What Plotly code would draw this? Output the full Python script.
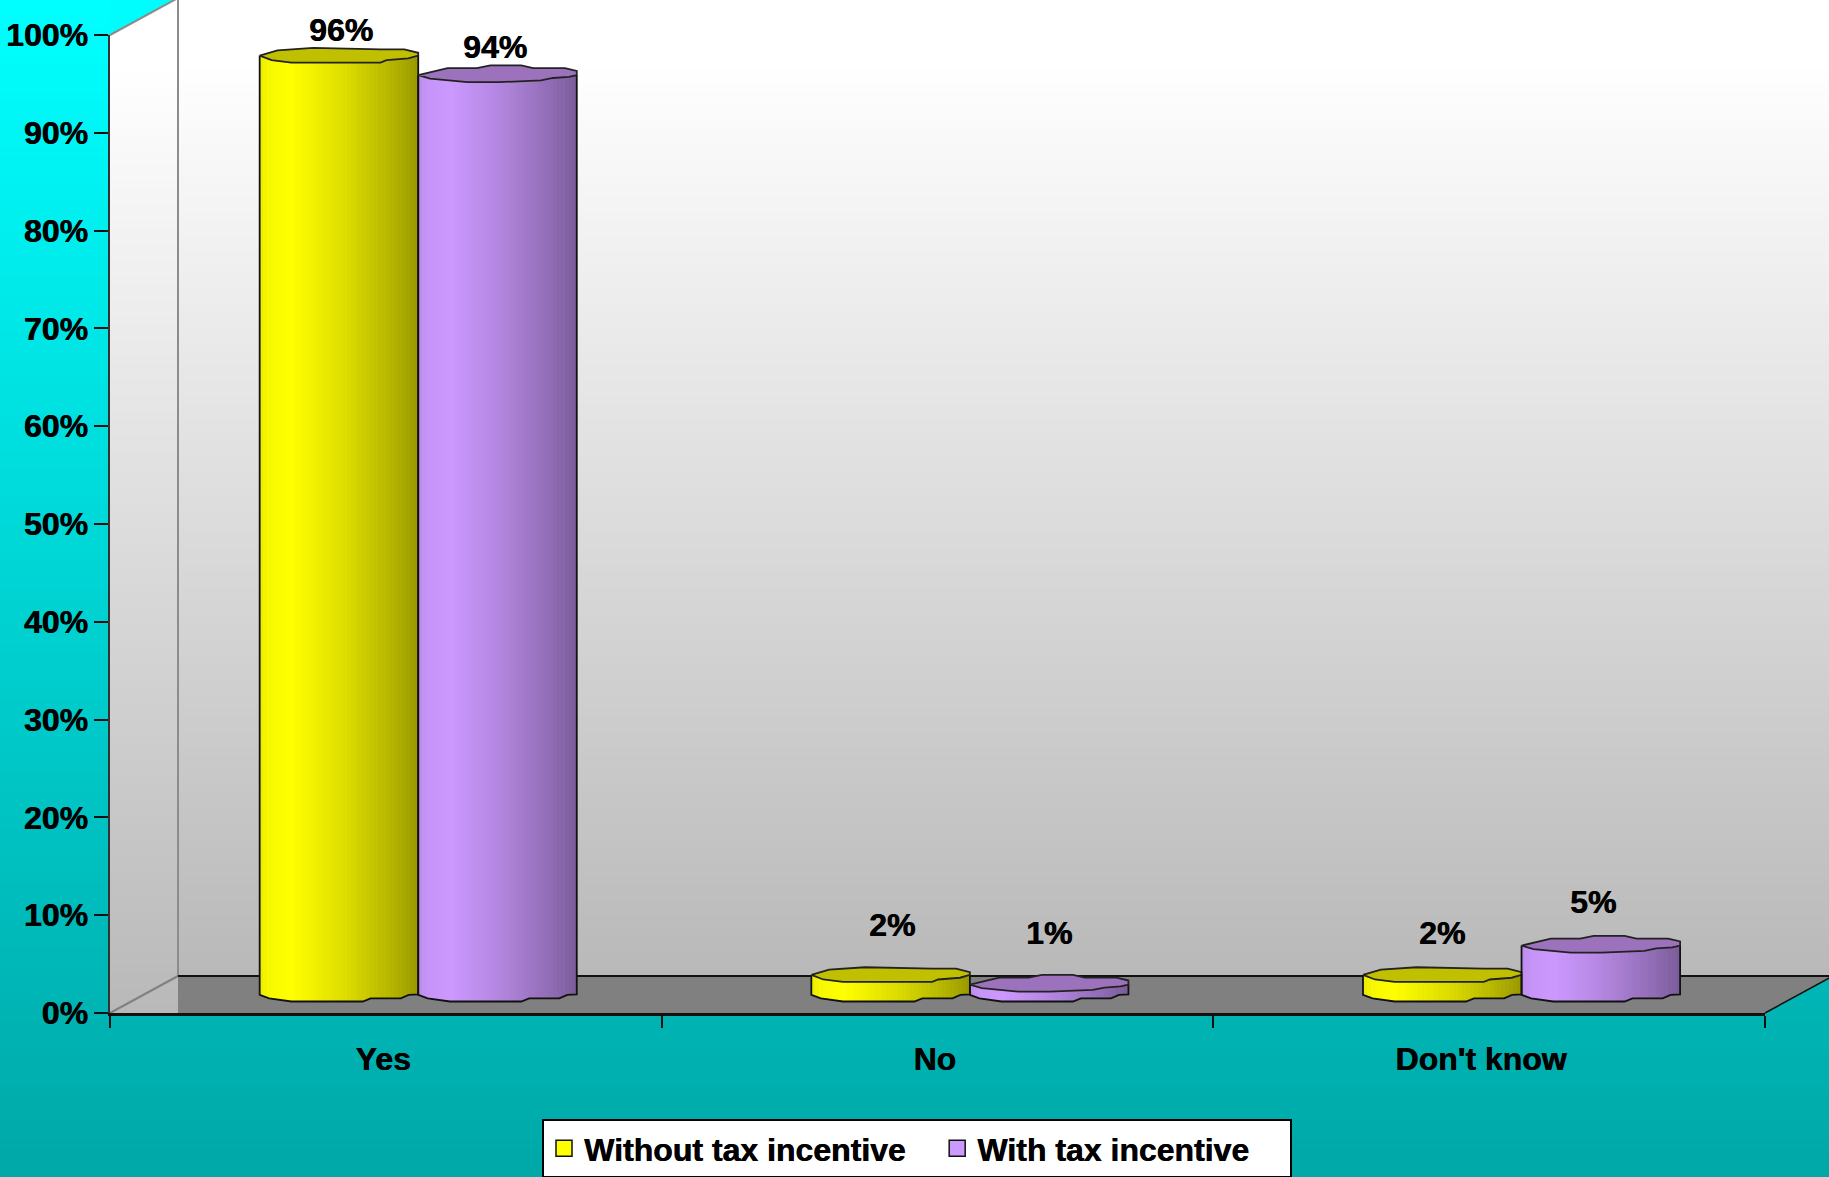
import numpy as np
import plotly.graph_objects as go

# Survey results
categories = ["Yes", "No", "Don't know"]
without_incentive = [96, 2, 2]
with_incentive = [94, 1, 5]
percent_ticks = [0, 10, 20, 30, 40, 50, 60, 70, 80, 90, 100]
series_names = ["Without tax incentive", "With tax incentive"]

W, H = 1829, 1177
AX_L, AX_R, AX_T, AX_B = 110, 1765, 35, 1013   # front plane of the plot, px
DEPTH_X, DEPTH_Y = 68, 37                      # 3-D box depth, px
BACK_X, BACK_Y = AX_L + DEPTH_X, AX_B - DEPTH_Y
FONT = "Liberation Sans"
TEXT_SIZE = 32
TEXT_STYLE = dict(family=FONT, size=TEXT_SIZE, color="#000000", weight=700,
                  shadow="0.6px 0 0 #000000")

PX_PER_UNIT_Y = (AX_B - AX_T) / 100
BASE = (DEPTH_Y / 2) / PX_PER_UNIT_Y     # columns stand mid-way across the floor
CAP = 7.0 / PX_PER_UNIT_Y                # rim amplitude of the column ellipses
HALF_W = 0.1437
GROUP_MID = 0.5587

# Faceted column rims: (position across the column, offset in rim amplitudes)
BOTTOM_RIM = [(-1, 0.05), (-0.88, 0.55), (-0.6, 1), (0.3, 1), (0.4, 0.55), (0.78, 0.55), (0.88, 0.05), (1, 0)]
YELLOW_CAP = [(-1, 0), (-0.85, 0.65), (-0.6, 1), (0.525, 1), (0.6, 0.65), (0.875, 0.4), (1, 0),
              (1, -0.4), (0.825, -0.9), (0.525, -0.9), (-0.325, -1.1), (-0.775, -0.75), (-1, 0)]
PURPLE_CAP = [(-1, 0), (-0.85, 0.5), (-0.38, 1), (0.01, 1), (0.55, 0.75), (0.7, 0.4), (0.9, 0.25), (1, 0),
              (1, -0.6), (0.85, -1), (0.45, -1), (0.3, -1.4), (-0.09, -1.4), (-0.26, -1), (-0.63, -1),
              (-0.78, -0.6), (-1, 0)]

fig = go.Figure()

# --- backdrop, on a full-page pixel axis pair ---------------------------------
rows = 128


def gradient_band(x0, x1, y0, y1, scale):
    edges = np.linspace(y0, y1, rows + 1)
    fig.add_trace(go.Heatmap(
        x=[x0, x1], y=edges, z=[[v] for v in np.linspace(0, 1, rows)],
        colorscale=scale, zmin=0, zmax=1, showscale=False, hoverinfo="skip",
        xaxis="x", yaxis="y"))


wall_scale = [[0, "#ffffff"], [0.06, "#ffffff"], [1, "#b9b9b9"]]
gradient_band(0, W, 0, H, [[0, "#00ffff"], [1, "#00a8a8"]])
gradient_band(BACK_X, W + 2, -1, BACK_Y, wall_scale)
gradient_band(AX_L, BACK_X, -1, AX_B, wall_scale)


def backdrop_poly(xs, ys, fill=None, line=None, width=2):
    fig.add_trace(go.Scatter(
        x=xs, y=ys, mode="lines", xaxis="x", yaxis="y", showlegend=False, hoverinfo="skip",
        fill="toself" if fill else None, fillcolor=fill,
        line=dict(color=line or "rgba(0,0,0,0)", width=width if line else 0)))


# area above the slanted top edge of the side wall
backdrop_poly([AX_L, BACK_X, AX_L, AX_L], [AX_T, AX_T - DEPTH_Y, AX_T - DEPTH_Y, AX_T], fill="#00fdfd")
# floor
backdrop_poly([BACK_X, W + 5, AX_R, BACK_X, BACK_X], [BACK_Y, BACK_Y, AX_B, AX_B, BACK_Y], fill="#808080")
# wall edges
backdrop_poly([AX_L, BACK_X, BACK_X], [AX_T, AX_T - DEPTH_Y, BACK_Y], line="#8c8c8c")
backdrop_poly([AX_L, BACK_X], [AX_B, BACK_Y], line="#808080")
backdrop_poly([BACK_X, W + 5], [BACK_Y, BACK_Y], line="#111111")
backdrop_poly([AX_R, W + 5], [AX_B, AX_B - (W + 5 - AX_R) * DEPTH_Y / DEPTH_X], line="#111111", width=1.5)


# --- cylinders ----------------------------------------------------------------
def shade(t):
    """Brightness across a column, lit just left of centre-left."""
    return np.interp(t, [0, 0.06, 0.2, 0.55, 0.85, 1.0], [0.92, 0.97, 1.0, 0.86, 0.70, 0.60])


def to_hex(rgb, k):
    return "#%02x%02x%02x" % tuple(int(round(c * k)) for c in rgb)


rim_s = [p[0] for p in BOTTOM_RIM]
rim_d = [p[1] for p in BOTTOM_RIM]


def add_series(values, rgb, cap_color, cap_profile, sign):
    slices = 40
    s = (np.arange(slices) + 0.5) / slices * 2 - 1
    step = 2 * HALF_W / slices
    xs, tops, bases, colors = [], [], [], []
    centers = []
    for i, v in enumerate(values):
        c = i + GROUP_MID + sign * HALF_W
        centers.append(c)
        for sv in s:
            dip = float(np.interp(sv, rim_s, rim_d)) * CAP
            xs.append(c + sv * HALF_W)
            bases.append(BASE - dip)
            tops.append(v + dip)
            colors.append(to_hex(rgb, shade((sv + 1) / 2)))
    fig.add_trace(go.Bar(
        x=xs, y=tops, base=bases, width=step * 1.15, xaxis="x2", yaxis="y2",
        marker=dict(color=colors, line=dict(width=0)),
        showlegend=False, hoverinfo="skip", cliponaxis=False))
    cap_s = np.array([p[0] for p in cap_profile])
    cap_d = np.array([p[1] for p in cap_profile])
    for c, v in zip(centers, values):
        top = BASE + v
        # outline of the column body
        ox = np.concatenate([[c - HALF_W], c + HALF_W * np.array(rim_s), [c + HALF_W]])
        oy = np.concatenate([[top], BASE - CAP * np.array(rim_d), [top]])
        fig.add_trace(go.Scatter(
            x=ox, y=oy, mode="lines", xaxis="x2", yaxis="y2", showlegend=False, hoverinfo="skip",
            line=dict(color="#111111", width=1.8), cliponaxis=False))
        # top cap
        fig.add_trace(go.Scatter(
            x=c + HALF_W * cap_s, y=top - CAP * cap_d,
            mode="lines", fill="toself", fillcolor=cap_color, xaxis="x2", yaxis="y2",
            showlegend=False, line=dict(color="#222222", width=1.8),
            hovertemplate=f"{v}%<extra></extra>", cliponaxis=False))
    return centers


yellow = (255, 255, 0)
purple = (204, 153, 255)
yellow_centers = add_series(without_incentive, yellow, "#c0c000", YELLOW_CAP, -1)
purple_centers = add_series(with_incentive, purple, "#9c72bd", PURPLE_CAP, 1)

# legend entries; trailing no-break spaces set the gap between and after the items
legend_padding = [3, 4]
for name, color, pad in zip(series_names, ["#ffff00", "#cc99ff"], legend_padding):
    fig.add_trace(go.Scatter(
        x=[None], y=[None], mode="markers", name=name + "\u00a0" * pad, xaxis="x2", yaxis="y2",
        marker=dict(symbol="square", size=16, color=color, line=dict(color="#111111", width=1.5))))

# value labels sit clear of each column top; (dx, lift) in px
label_values = [without_incentive[0], with_incentive[0], without_incentive[1],
                with_incentive[1], without_incentive[2], with_incentive[2]]
label_centers = [yellow_centers[0], purple_centers[0], yellow_centers[1],
                 purple_centers[1], yellow_centers[2], purple_centers[2]]
label_nudges = [(2, 26), (-2, 28), (1, 50), (0, 52), (0, 42), (-8, 44)]
annotations = []
for v, c, (dx, lift) in zip(label_values, label_centers, label_nudges):
    annotations.append(dict(
        x=c, y=v + BASE, xref="x2", yref="y2", text=f"{v}%", showarrow=False,
        xshift=dx, yshift=lift, xanchor="center", yanchor="middle",
        font=TEXT_STYLE))

fig.update_layout(
    width=W, height=H, autosize=False,
    margin=dict(l=0, r=0, t=0, b=0, pad=0, autoexpand=False),
    paper_bgcolor="#00a8a8", plot_bgcolor="rgba(0,0,0,0)",
    barmode="overlay", bargap=0,
    annotations=annotations,
    showlegend=True,
    legend=dict(
        orientation="h", x=542 / W, y=(H - 1119) / H, xanchor="left", yanchor="top",
        bgcolor="#ffffff", bordercolor="#000000", borderwidth=2,
        font=TEXT_STYLE,
        itemclick=False, itemdoubleclick=False,
    ),
    xaxis=dict(domain=[0, 1], range=[0, W], visible=False, fixedrange=True),
    yaxis=dict(domain=[0, 1], range=[H, 0], visible=False, fixedrange=True),
    xaxis2=dict(
        domain=[AX_L / W, AX_R / W], range=[0, 3], anchor="y2", fixedrange=True,
        showgrid=False, zeroline=False, showline=True, linecolor="#111111", linewidth=3,
        tickmode="array", tickvals=[0.495, 1.495, 2.485], ticktext=categories,
        ticks="outside", ticklen=16, tickwidth=1, tickcolor="rgba(0,0,0,0)",
        tickfont=TEXT_STYLE,
        minor=dict(tickmode="array", tickvals=[0, 1, 2, 3], ticks="outside",
                   ticklen=12, tickwidth=1.5, tickcolor="#111111", showgrid=False),
    ),
    yaxis2=dict(
        domain=[(H - AX_B) / H, (H - AX_T) / H], range=[0, 100], anchor="x2", fixedrange=True,
        showgrid=False, zeroline=False, showline=True, linecolor="#333333", linewidth=1.5,
        tickmode="array", tickvals=percent_ticks, ticktext=[f"{p}%" for p in percent_ticks],
        ticks="outside", ticklen=14, tickwidth=1.5, tickcolor="#111111",
        tickfont=TEXT_STYLE,
    ),
)

fig.write_html("out.html")
